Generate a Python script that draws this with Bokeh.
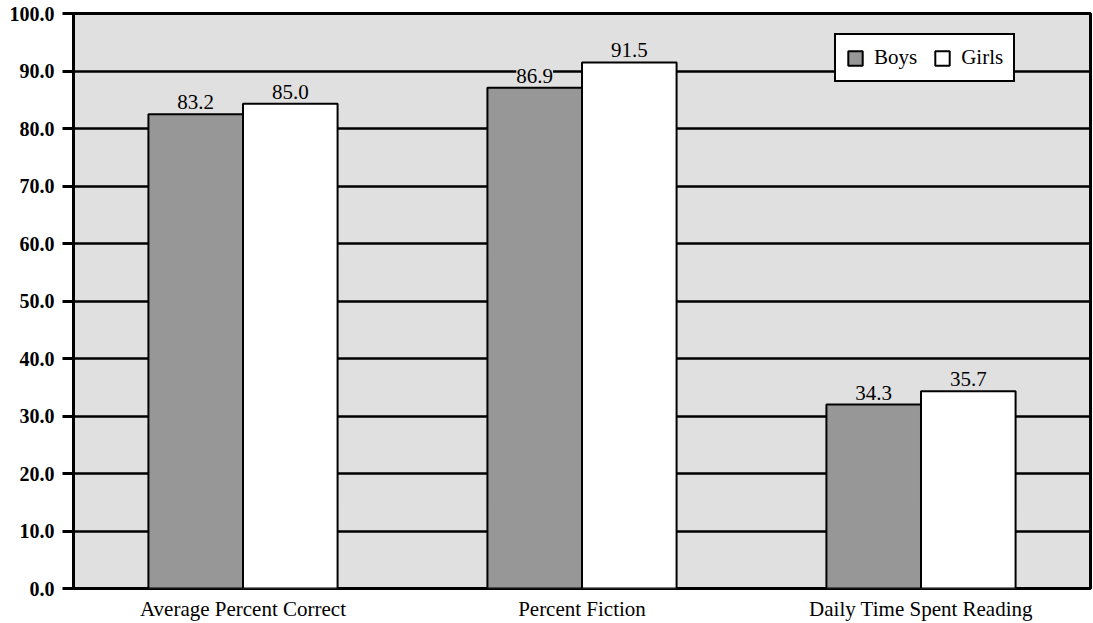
from bokeh.plotting import figure
from bokeh.models import ColumnDataSource, FactorRange, Range1d, LabelSet, PrintfTickFormatter, FixedTicker
from bokeh.transform import dodge
from bokeh.core.properties import value
from bokeh.embed import file_html
from bokeh.resources import INLINE

categories = ["Average Percent Correct", "Percent Fiction", "Daily Time Spent Reading"]
boys_values = [82.5, 87.1, 32.0]
girls_values = [84.3, 91.5, 34.3]
boys_labels = ["83.2", "86.9", "34.3"]
girls_labels = ["85.0", "91.5", "35.7"]
y_ticks = [0, 10, 20, 30, 40, 50, 60, 70, 80, 90, 100]

FONT = "Liberation Serif"
BG = "#e0e0e0"
BOYS_COLOR = "#979797"
GIRLS_COLOR = "#ffffff"

source = ColumnDataSource(dict(cat=categories, boys=boys_values, girls=girls_values,
                               boys_label=boys_labels, girls_label=girls_labels))

p = figure(width=1093, height=623, x_range=FactorRange(*categories, range_padding=0),
           y_range=Range1d(0, 100), output_backend="svg", toolbar_location=None,
           min_border_left=73, min_border_right=3, min_border_top=13, min_border_bottom=35)
p.background_fill_color = BG
p.border_fill_color = "white"
p.outline_line_color = "black"
p.outline_line_alpha = 1
p.outline_line_width = 3

bw = 0.279
p.vbar(x=dodge("cat", -bw / 2, range=p.x_range), top="boys", width=bw, source=source,
       fill_color=BOYS_COLOR, line_color="black", line_width=2, legend_label="Boys")
p.vbar(x=dodge("cat", bw / 2, range=p.x_range), top="girls", width=bw, source=source,
       fill_color=GIRLS_COLOR, line_color="black", line_width=2, legend_label="Girls")

for col, lab, off in (("boys", "boys_label", -bw / 2), ("girls", "girls_label", bw / 2)):
    ls = LabelSet(x=dodge("cat", off, range=p.x_range), y=col, text=lab, source=source,
                  text_align="center", text_baseline="bottom", y_offset=5,
                  text_font=value(FONT), text_font_size=value("21px"), text_color="black",
                  background_fill_color=BG)
    p.add_layout(ls)

# grid
p.xgrid.grid_line_color = None
p.ygrid.grid_line_color = "black"
p.ygrid.grid_line_alpha = 1
p.ygrid.grid_line_width = 2.5
p.ygrid.ticker = FixedTicker(ticks=y_ticks)

# y axis
p.yaxis.ticker = FixedTicker(ticks=y_ticks)
p.yaxis.formatter = PrintfTickFormatter(format="%.1f")
p.yaxis.major_tick_out = 11
p.yaxis.major_tick_in = 0
p.yaxis.major_tick_line_width = 3
p.yaxis.major_tick_line_color = "black"
p.yaxis.minor_tick_line_color = None
p.yaxis.axis_line_width = 3
p.yaxis.axis_line_color = "black"
p.yaxis.major_label_text_font = FONT
p.yaxis.major_label_text_font_style = "bold"
p.yaxis.major_label_text_font_size = "20px"
p.yaxis.major_label_text_color = "black"
p.yaxis.major_label_standoff = 8

# x axis
p.xaxis.major_tick_line_color = None
p.xaxis.minor_tick_line_color = None
p.xaxis.axis_line_color = None
p.xaxis.major_label_text_font = FONT
p.xaxis.major_label_text_font_size = "21px"
p.xaxis.major_label_text_color = "black"
p.xaxis.major_label_standoff = 2

# legend
lg = p.legend[0]
lg.orientation = "horizontal"
lg.location = (761, 506)
lg.border_line_color = "black"
lg.border_line_alpha = 1
lg.border_line_width = 2
lg.background_fill_color = "white"
lg.background_fill_alpha = 1
lg.label_text_font = FONT
lg.label_text_font_size = "21px"
lg.label_text_color = "black"
lg.glyph_width = 18
lg.glyph_height = 18
lg.label_standoff = 10
lg.spacing = 16
lg.padding = 10
lg.margin = 0

open("out.html", "w").write(file_html(p, INLINE))
